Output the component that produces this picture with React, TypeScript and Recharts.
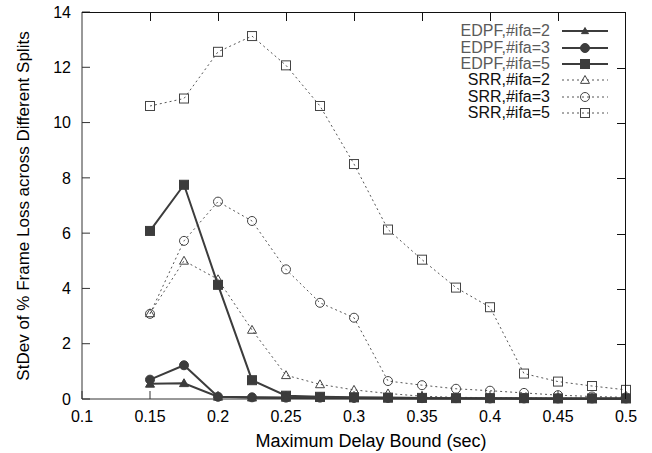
import { LineChart, Line, XAxis, YAxis, Label } from 'recharts';

const delayBounds = [0.15, 0.175, 0.2, 0.225, 0.25, 0.275, 0.3, 0.325, 0.35, 0.375, 0.4, 0.425, 0.45, 0.475, 0.5];

const edpf2 = [0.55, 0.57, 0.08, 0.05, 0.04, 0.03, 0.03, 0.02, 0.02, 0.02, 0.02, 0.01, 0.01, 0.01, 0.01];
const edpf3 = [0.7, 1.22, 0.08, 0.06, 0.05, 0.05, 0.04, 0.04, 0.03, 0.03, 0.02, 0.02, 0.02, 0.02, 0.02];
const edpf5 = [6.08, 7.75, 4.13, 0.68, 0.12, 0.08, 0.06, 0.05, 0.04, 0.03, 0.03, 0.03, 0.02, 0.02, 0.02];
const srr2 = [3.1, 5.0, 4.33, 2.5, 0.86, 0.53, 0.33, 0.2, 0.1, 0.06, 0.05, 0.04, 0.03, 0.03, 0.02];
const srr3 = [3.08, 5.72, 7.14, 6.44, 4.69, 3.48, 2.94, 0.65, 0.5, 0.37, 0.3, 0.22, 0.14, 0.09, 0.06];
const srr5 = [10.6, 10.87, 12.56, 13.13, 12.07, 10.6, 8.5, 6.13, 5.04, 4.03, 3.32, 0.92, 0.63, 0.47, 0.33];

const xTicks = [0.1, 0.15, 0.2, 0.25, 0.3, 0.35, 0.4, 0.45, 0.5];
const yTicks = [0, 2, 4, 6, 8, 10, 12, 14];

const X_MIN = 0.1;
const X_MAX = 0.5;
const Y_MAX = 14;

type Shape = 'triangle' | 'circle' | 'square';

interface Series {
  key: string;
  name: string;
  values: number[];
  shape: Shape;
  solid: boolean;
}

const SERIES: Series[] = [
  { key: 'edpf2', name: 'EDPF,#ifa=2', values: edpf2, shape: 'triangle', solid: true },
  { key: 'edpf3', name: 'EDPF,#ifa=3', values: edpf3, shape: 'circle', solid: true },
  { key: 'edpf5', name: 'EDPF,#ifa=5', values: edpf5, shape: 'square', solid: true },
  { key: 'srr2', name: 'SRR,#ifa=2', values: srr2, shape: 'triangle', solid: false },
  { key: 'srr3', name: 'SRR,#ifa=3', values: srr3, shape: 'circle', solid: false },
  { key: 'srr5', name: 'SRR,#ifa=5', values: srr5, shape: 'square', solid: false },
];

const data = delayBounds.map((x, i) => {
  const row: Record<string, number> = { x };
  SERIES.forEach((s) => {
    row[s.key] = s.values[i];
  });
  return row;
});

const FONT = '"Liberation Sans", Arial, Helvetica, sans-serif';
const SOLID = '#3c3c3c';
const DOTTED = '#555';
const FRAME = '#111';

const W = 652;
const H = 453;
const MARGIN = { top: 12, right: 26, bottom: 0, left: 0 };
const Y_AXIS_W = 82;
const X_AXIS_H = 54;
// plot box, same numbers the chart uses for its own layout
const PLOT = {
  left: MARGIN.left + Y_AXIS_W,
  right: W - MARGIN.right,
  top: MARGIN.top,
  bottom: H - MARGIN.bottom - X_AXIS_H,
};

function Marker({ cx, cy, shape, solid, small = false }: { cx: number; cy: number; shape: Shape; solid: boolean; small?: boolean }) {
  if (cx == null || cy == null || isNaN(cx) || isNaN(cy)) return null;
  const fill = solid ? SOLID : 'none';
  const stroke = solid ? SOLID : '#444';
  if (shape === 'square') {
    const h = 4.5;
    return <rect x={cx - h} y={cy - h} width={h * 2} height={h * 2} fill={fill} stroke={stroke} strokeWidth={1} />;
  }
  if (shape === 'circle') {
    return <circle cx={cx} cy={cy} r={4.5} fill={fill} stroke={stroke} strokeWidth={1} />;
  }
  const h = solid && small ? 3.5 : 4.5;
  const pts = `${cx},${cy - h} ${cx + h},${cy + h * 0.75} ${cx - h},${cy + h * 0.75}`;
  return <polygon points={pts} fill={fill} stroke={stroke} strokeWidth={1} />;
}

// top and right border of the box (plain CSS borders) plus inward ticks
function Frame() {
  const sx = (v: number) => ((v - X_MIN) / (X_MAX - X_MIN)) * (PLOT.right - PLOT.left);
  const sy = (v: number) => (PLOT.bottom - PLOT.top) - (v / Y_MAX) * (PLOT.bottom - PLOT.top);
  return (
    <div
      style={{
        position: 'absolute',
        left: PLOT.left,
        top: PLOT.top,
        width: PLOT.right - PLOT.left,
        height: PLOT.bottom - PLOT.top,
        borderTop: `1px solid ${FRAME}`,
        borderRight: `1px solid ${FRAME}`,
        boxSizing: 'border-box',
        pointerEvents: 'none',
        zIndex: 5,
      }}
    >
      {xTicks.slice(1, -1).map((t) => (
        <div
          key={`t${t}`}
          style={{ position: 'absolute', left: sx(t) - 0.5, top: 0, width: 1, height: 8, background: FRAME }}
        />
      ))}
      {yTicks.slice(1, -1).map((t) => (
        <div
          key={`r${t}`}
          style={{ position: 'absolute', right: 0, top: sy(t) - 0.5, width: 8, height: 1, background: FRAME }}
        />
      ))}
    </div>
  );
}

function LegendBox() {
  return (
    <div style={{ position: 'absolute', left: 400, top: 23, width: 220, fontFamily: FONT, zIndex: 6 }}>
      {SERIES.map((s) => (
        <div key={s.key} style={{ display: 'flex', alignItems: 'center', height: 16.4 }}>
          <span
            style={{
              width: 150,
              textAlign: 'right',
              fontSize: 16,
              lineHeight: '16px',
              color: s.solid ? '#5a5a5a' : '#111',
            }}
          >
            {s.name}
          </span>
          <svg width={60} height={16} style={{ marginLeft: 10 }}>
            <line
              x1={2}
              x2={48}
              y1={8}
              y2={8}
              stroke={s.solid ? SOLID : DOTTED}
              strokeWidth={s.solid ? 2 : 1}
              strokeDasharray={s.solid ? undefined : '2 3'}
            />
            <Marker cx={25} cy={8} shape={s.shape} solid={s.solid} small />
          </svg>
        </div>
      ))}
    </div>
  );
}

export default function App() {
  const tickStyle = { fill: '#000', fontSize: 16, fontFamily: FONT };
  return (
    <div style={{ position: 'absolute', left: 0, top: 0, width: W, height: H, background: '#fff' }}>
      <LineChart width={W} height={H} data={data} margin={MARGIN}>
        <XAxis
          dataKey="x"
          type="number"
          domain={[X_MIN, X_MAX]}
          ticks={xTicks}
          interval={0}
          tickFormatter={(v) => String(v)}
          height={X_AXIS_H}
          tickSize={-8}
          tickMargin={20}
          tick={tickStyle}
          axisLine={{ stroke: '#333' }}
          tickLine={{ stroke: '#333' }}
        >
          <Label
            content={() => (
              <text x={371} y={447} textAnchor="middle" fontSize={18} fontFamily={FONT} fill="#000">
                Maximum Delay Bound (sec)
              </text>
            )}
          />
        </XAxis>
        <YAxis
          type="number"
          domain={[0, Y_MAX]}
          ticks={yTicks}
          interval={0}
          width={Y_AXIS_W}
          tickSize={-8}
          tickMargin={19}
          tick={tickStyle}
          axisLine={{ stroke: '#333' }}
          tickLine={{ stroke: '#333' }}
        >
          <Label
            content={() => (
              <text
                x={29}
                y={206}
                transform="rotate(-90 29 206)"
                textAnchor="middle"
                fontSize={17}
                fontFamily={FONT}
                fill="#000"
              >
                StDev of % Frame Loss across Different Splits
              </text>
            )}
          />
        </YAxis>

        {[...SERIES].reverse().map((s) => (
          <Line
            key={s.key}
            dataKey={s.key}
            name={s.name}
            type="linear"
            stroke={s.solid ? SOLID : DOTTED}
            strokeWidth={s.solid ? 2 : 1}
            strokeDasharray={s.solid ? undefined : '2 3'}
            isAnimationActive={false}
            activeDot={false}
            dot={(p: any) => (
              <Marker key={`${s.key}-${p.index}`} cx={p.cx} cy={p.cy} shape={s.shape} solid={s.solid} />
            )}
          />
        ))}
      </LineChart>
      <Frame />
      <LegendBox />
    </div>
  );
}
